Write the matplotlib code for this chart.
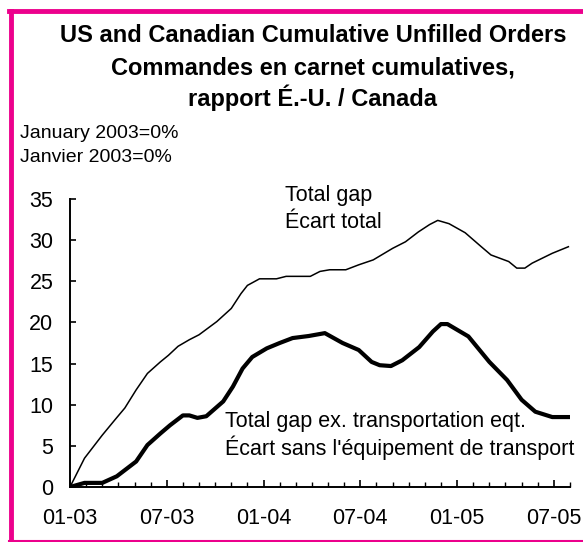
import matplotlib
matplotlib.use("Agg")
from matplotlib import pyplot as plt
from matplotlib.lines import Line2D
from matplotlib.ticker import FixedLocator, MultipleLocator

plt.rcParams['font.family'] = ['Liberation Sans', 'DejaVu Sans']

# months since January 2003
total_x = [0, 0.9, 2.0, 2.8, 3.4, 4.1, 4.8, 5.6, 6.1, 6.7, 7.4, 8.0, 9.1, 10.0, 10.6, 11.0,
           11.75, 12.8, 13.4, 14.9, 15.5, 16.1, 17.1, 17.9, 18.8, 20.0, 20.8, 21.6, 22.3,
           22.8, 23.5, 24.5, 25.5, 26.1, 27.2, 27.7, 28.2, 28.65, 29.9, 30.9]
total_gap = [0, 3.5, 6.3, 8.2, 9.6, 11.8, 13.8, 15.2, 16.0, 17.1, 17.9, 18.5, 20.1, 21.7, 23.5,
             24.5, 25.3, 25.3, 25.6, 25.6, 26.2, 26.4, 26.4, 27.0, 27.6, 29.0, 29.8, 31.0, 31.9,
             32.4, 32.0, 30.9, 29.2, 28.2, 27.4, 26.6, 26.6, 27.2, 28.4, 29.2]

extrans_x = [0, 0.9, 2.0, 2.9, 4.1, 4.8, 5.6, 6.2, 7.0, 7.4, 7.9, 8.45, 9.5, 10.1, 10.7, 11.3,
             12.2, 13.0, 13.8, 14.8, 15.8, 16.9, 17.9, 18.7, 19.2, 19.9, 20.6, 21.65, 22.5,
             23.0, 23.4, 24.7, 26.0, 27.1, 28.0, 28.85, 29.9, 30.9]
extrans_gap = [0, 0.5, 0.5, 1.3, 3.1, 5.1, 6.5, 7.5, 8.7, 8.7, 8.4, 8.6, 10.4, 12.2, 14.4, 15.8,
               16.85, 17.5, 18.1, 18.35, 18.7, 17.5, 16.65, 15.2, 14.8, 14.7, 15.4, 17.0, 18.9,
               19.8, 19.8, 18.3, 15.2, 13.0, 10.6, 9.15, 8.5, 8.5]

tick_pos = [0, 6, 12, 18, 24, 30]
tick_labels = ['01-03', '07-03', '01-04', '07-04', '01-05', '07-05']

W, H = 583, 542
fig = plt.figure(figsize=(W / 100, H / 100), dpi=100)
ax = fig.add_axes([70 / W, 1 - 487 / H, 500 / W, 288 / H])

ax.plot(total_x, total_gap, color='black', lw=1.1)
ax.plot(extrans_x, extrans_gap, color='black', lw=3.0)

ax.set_xlim(0, 31)
ax.set_ylim(0, 35)
ax.yaxis.set_major_locator(MultipleLocator(5))
ax.xaxis.set_major_locator(FixedLocator(tick_pos))
ax.xaxis.set_minor_locator(MultipleLocator(1))
ax.set_xticklabels(tick_labels)
for s in ['top', 'right']:
    ax.spines[s].set_visible(False)
for s in ['left', 'bottom']:
    ax.spines[s].set_linewidth(1.4)
ax.tick_params(axis='y', direction='in', length=4.5, width=1.2, labelsize=15.5, pad=12)
ax.tick_params(axis='x', which='major', direction='in', length=5, width=1.2, labelsize=15.5, pad=15)
ax.tick_params(axis='x', which='minor', direction='in', length=3.5, width=1.0)


def px(x, y):
    return x / W, 1 - y / H


# titles
for txt, yb in [('US and Canadian Cumulative Unfilled Orders', 41.5),
                ('Commandes en carnet cumulatives,', 74),
                ('rapport É.-U. / Canada', 106)]:
    fig.text(*px(313, yb), txt, ha='center', va='baseline', fontsize=17, fontweight='bold')
fig.text(*px(20, 138), 'January 2003=0%', ha='left', va='baseline', fontsize=14)
fig.text(*px(20, 162), 'Janvier 2003=0%', ha='left', va='baseline', fontsize=14)

# line labels
fig.text(*px(285, 200.5), 'Total gap', ha='left', va='baseline', fontsize=15.5)
fig.text(*px(285, 228), 'Écart total', ha='left', va='baseline', fontsize=15.5)
fig.text(*px(225, 427), 'Total gap ex. transportation eqt.', ha='left', va='baseline', fontsize=15.5)
fig.text(*px(225, 455), "Écart sans l'équipement de transport", ha='left', va='baseline', fontsize=15.5)

# magenta frame
pink = '#EC008C'
fig.add_artist(Line2D([11 / W, 11 / W], [1 - 11 / H, 1 - 541 / H], color=pink, lw=3.5,
                      transform=fig.transFigure))
fig.add_artist(Line2D([9 / W, 1.0], [1 - 11 / H, 1 - 11 / H], color=pink, lw=3.5,
                      transform=fig.transFigure))
fig.add_artist(Line2D([9 / W, 1.0], [1 - 541 / H, 1 - 541 / H], color=pink, lw=1.5,
                      transform=fig.transFigure))

plt.savefig('out.png', dpi=100)
